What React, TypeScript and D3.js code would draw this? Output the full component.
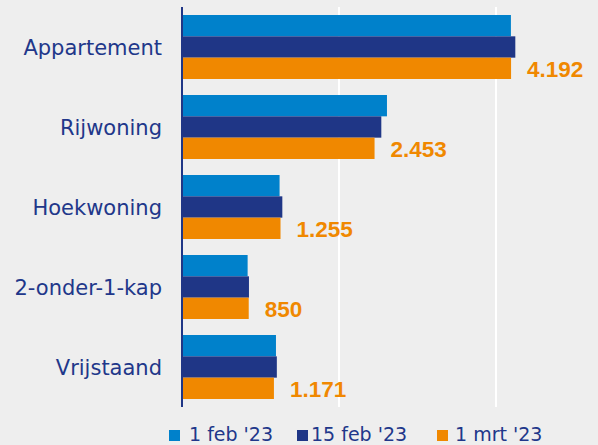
import React from 'react';
import * as d3 from 'd3';

const categories = ['Appartement', 'Rijwoning', 'Hoekwoning', '2-onder-1-kap', 'Vrijstaand'];
const seriesNames = ["1 feb '23", "15 feb '23", "1 mrt '23"];
const feb1 = [4190, 2611, 1243, 836, 1197];
const feb15 = [4246, 2539, 1278, 853, 1208];
const mrt1 = [4192, 2453, 1255, 850, 1171];
const gridTicks = [2000, 4000];

const colors = ['#0081cb', '#1f3686', '#f08800'];
const textBlue = '#21378a';
const W = 598;
const H = 445;

export default function App() {
  const series = [feb1, feb15, mrt1];
  const fmt = d3.formatLocale({decimal: ',', thousands: '.', grouping: [3], currency: ['€', '']}).format(',d');

  const x = d3.scaleLinear().domain([0, 4000]).range([182, 496]);
  const y = d3.scaleBand<string>().domain(categories).range([7, 407]).paddingInner(0.2).paddingOuter(0.1);
  const inner = d3.scaleBand<number>().domain([0, 1, 2]).range([0, y.bandwidth()]);

  // legend layout: square x and text x
  const legendPos = [[169, 189], [297, 311], [437, 455]];

  return (
    <svg width={W} height={H} style={{position: 'absolute', left: 0, top: 0, display: 'block'}}
      fontFamily="'DejaVu Sans', sans-serif">
      <rect width={W} height={H} fill="#eeeeee" />
      {gridTicks.map(t => (
        <line key={t} x1={x(t)} x2={x(t)} y1={7} y2={407} stroke="#ffffff" strokeWidth={2} />
      ))}
      {categories.map((c, i) => (
        <g key={c} transform={`translate(0,${y(c)})`}>
          {series.map((s, k) => (
            <rect key={k} x={x(0)} y={inner(k)} width={x(s[i]) - x(0)} height={inner.bandwidth()}
              fill={colors[k]} />
          ))}
          <text x={162} y={y.bandwidth() / 2 + 7.5} textAnchor="end" fontSize={21} fill={textBlue}>{c}</text>
          <text x={x(mrt1[i]) + 16} y={(inner(2) as number) + inner.bandwidth() / 2 + 8.5}
            fontFamily="'Liberation Sans', Arial, sans-serif"
            fontSize={22.5} fontWeight="bold" fill={colors[2]}>{fmt(mrt1[i])}</text>
        </g>
      ))}
      <line x1={182} x2={182} y1={7} y2={407} stroke="#1f3686" strokeWidth={2} />
      {seriesNames.map((n, k) => (
        <g key={n}>
          <rect x={legendPos[k][0]} y={430} width={11} height={11} fill={colors[k]} />
          <text x={legendPos[k][1]} y={440.5} fontSize={19} fill={textBlue}>{n}</text>
        </g>
      ))}
    </svg>
  );
}
